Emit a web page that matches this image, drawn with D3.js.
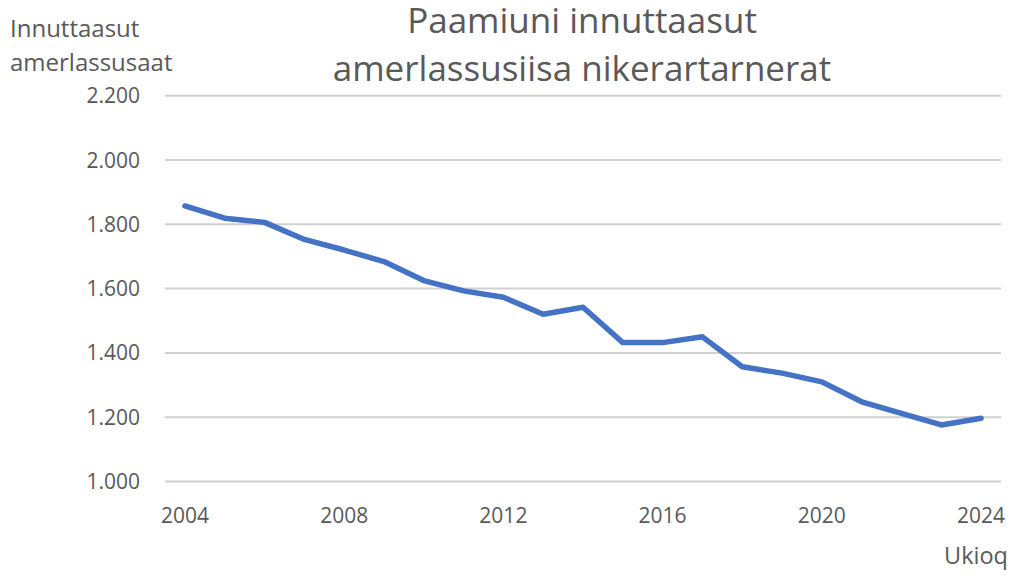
<!DOCTYPE html>
<html><head><meta charset="utf-8">
<script src="https://cdn.jsdelivr.net/npm/d3@7"></script>
<style>body{margin:0;background:#fff}text{font-family:"Open Sans",sans-serif;fill:#595959}</style>
</head><body><svg id="c" width="1021" height="580"></svg>
<script>
const years = [2004,2005,2006,2007,2008,2009,2010,2011,2012,2013,2014,2015,2016,2017,2018,2019,2020,2021,2022,2023,2024];
const population = [1857,1819,1806,1753,1720,1684,1625,1593,1573,1520,1542,1432,1432,1450,1357,1337,1310,1248,1212,1176,1197];
const yTicks = [1000,1200,1400,1600,1800,2000,2200];
const xTickYears = [2004,2008,2012,2016,2020,2024];
const titleLines = ["Paamiuni innuttaasut","amerlassusiisa nikerartarnerat"];
const yLabelLines = ["Innuttaasut","amerlassusaat"];
const xLabel = "Ukioq";

const svg = d3.select("#c");
const mLeft = 165, mRight = 1001, mTop = 95.7, mBottom = 481.5;
const x = d3.scaleBand().domain(years).range([mLeft, mRight]);
const y = d3.scaleLinear().domain([1000, 2200]).range([mBottom, mTop]);
const fmt = d => d3.format(",")(d).replace(/,/g, ".");

svg.append("g").selectAll("line").data(yTicks).join("line")
  .attr("x1", mLeft).attr("x2", mRight)
  .attr("y1", d => y(d)).attr("y2", d => y(d))
  .attr("stroke", "#d0d0d0").attr("stroke-width", 2);

svg.append("g").selectAll("text").data(yTicks).join("text")
  .attr("x", 140).attr("y", d => y(d) + 7.5)
  .attr("text-anchor", "end").attr("font-size", 21).text(fmt);

svg.append("g").selectAll("text").data(xTickYears).join("text")
  .attr("x", d => x(d) + x.bandwidth() / 2).attr("y", 523)
  .attr("text-anchor", "middle").attr("font-size", 21).text(d => d);

const line = d3.line().x((d, i) => x(years[i]) + x.bandwidth() / 2).y(d => y(d));
svg.append("path").datum(population).attr("d", line)
  .attr("fill", "none").attr("stroke", "#4472c4").attr("stroke-width", 5.5)
  .attr("stroke-linejoin", "round").attr("stroke-linecap", "round");

svg.append("g").selectAll("text").data(titleLines).join("text")
  .attr("x", 582).attr("y", (d, i) => 33 + i * 47.5)
  .attr("text-anchor", "middle").attr("font-size", 35).attr("fill", "#4d4d4d").text(d => d);

svg.append("g").selectAll("text").data(yLabelLines).join("text")
  .attr("x", 10).attr("y", (d, i) => 36.5 + i * 34)
  .attr("font-size", 24).text(d => d);

svg.append("text").attr("x", 1008).attr("y", 564)
  .attr("text-anchor", "end").attr("font-size", 23.5).text(xLabel);
</script></body></html>
